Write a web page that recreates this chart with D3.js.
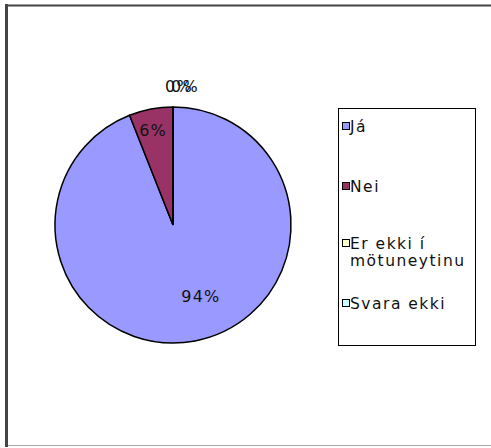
<!DOCTYPE html>
<html><head><meta charset="utf-8">
<script src="https://cdn.jsdelivr.net/npm/d3@7"></script>
<style>html,body{margin:0;padding:0;background:#fff;}svg{display:block;}</style>
</head><body>
<svg id="chart" width="491" height="448"></svg>
<script>
const categories = ["Já", "Nei", "Er ekki í mötuneytinu", "Svara ekki"];
const legendLines = [["Já"], ["Nei"], ["Er ekki í", "mötuneytinu"], ["Svara ekki"]];
const values = [94, 6, 0, 0];
const labels = ["94%", "6%", "0%", "0%"];
const colors = ["#9999FF", "#993366", "#FFFFCC", "#CCFFFF"];

const svg = d3.select("#chart");
const font = "DejaVu Sans, Verdana, sans-serif";

// outer frame
svg.append("line").attr("x1", 6.5).attr("y1", 4).attr("x2", 6.5).attr("y2", 447).attr("stroke", "#444").attr("stroke-width", 3);
svg.append("line").attr("x1", 5).attr("y1", 5.5).attr("x2", 491).attr("y2", 5.5).attr("stroke", "#444").attr("stroke-width", 2);
svg.append("line").attr("x1", 8).attr("y1", 445.5).attr("x2", 491).attr("y2", 445.5).attr("stroke", "#aaa").attr("stroke-width", 1);

const cx = 173, cy = 225, r = 118;
const pie = d3.pie().sort(null).value(d => d).startAngle(0).endAngle(2 * Math.PI);
const arcs = pie(values);
const arc = d3.arc().innerRadius(0).outerRadius(r);
const g = svg.append("g").attr("transform", `translate(${cx},${cy})`);

g.selectAll("path").data(arcs).enter().append("path")
  .attr("d", arc)
  .attr("fill", (d, i) => colors[i])
  .attr("stroke", "#000").attr("stroke-width", 1.5);

const labelArcIn = d3.arc().innerRadius(r * 0.72).outerRadius(r * 0.72);
const labelArcOut = d3.arc().innerRadius(r + 21).outerRadius(r + 21);
const zeroOffsets = [-3, 3];
let zi = 0;
g.selectAll("text.lbl").data(arcs).enter().append("text")
  .attr("class", "lbl")
  .attr("transform", (d, i) => {
    if (d.value === 0) {
      const c = labelArcOut.centroid(d);
      const dx = zeroOffsets[zi++] + 9;
      return `translate(${c[0] + dx},${c[1] + 1})`;
    }
    const c = labelArcIn.centroid(d);
    return `translate(${c[0] + (i === 0 ? 12 : -4)},${c[1] + (i === 0 ? -11 : -10)})`;
  })
  .attr("text-anchor", "middle").attr("dominant-baseline", "middle")
  .attr("font-family", font).attr("font-size", 16).attr("letter-spacing", 1.2).attr("fill", "#111")
  .text((d, i) => labels[i]);

// legend
const lx = 338, ly = 108, lw = 137, lh = 237;
svg.append("defs").append("clipPath").attr("id", "legclip")
  .append("rect").attr("x", lx).attr("y", ly).attr("width", lw).attr("height", lh);
svg.append("rect").attr("x", lx + 0.5).attr("y", ly + 0.5).attr("width", lw).attr("height", lh)
  .attr("fill", "#fff").attr("stroke", "#000").attr("stroke-width", 1);
const itemY = [126, 186, 243, 303];
const lg = svg.append("g").attr("clip-path", "url(#legclip)");
categories.forEach((c, i) => {
  lg.append("rect").attr("x", lx + 4.5).attr("y", itemY[i] - 3.5).attr("width", 7).attr("height", 7)
    .attr("fill", colors[i]).attr("stroke", "#000").attr("stroke-width", 1);
  const t = lg.append("text").attr("x", lx + 12).attr("y", itemY[i] + 5.5)
    .attr("font-family", font).attr("font-size", 15.5).attr("letter-spacing", 1.5).attr("fill", "#111");
  legendLines[i].forEach((line, j) => {
    t.append("tspan").attr("x", lx + 12).attr("dy", j === 0 ? 0 : 17).text(line);
  });
});
</script>
</body></html>
